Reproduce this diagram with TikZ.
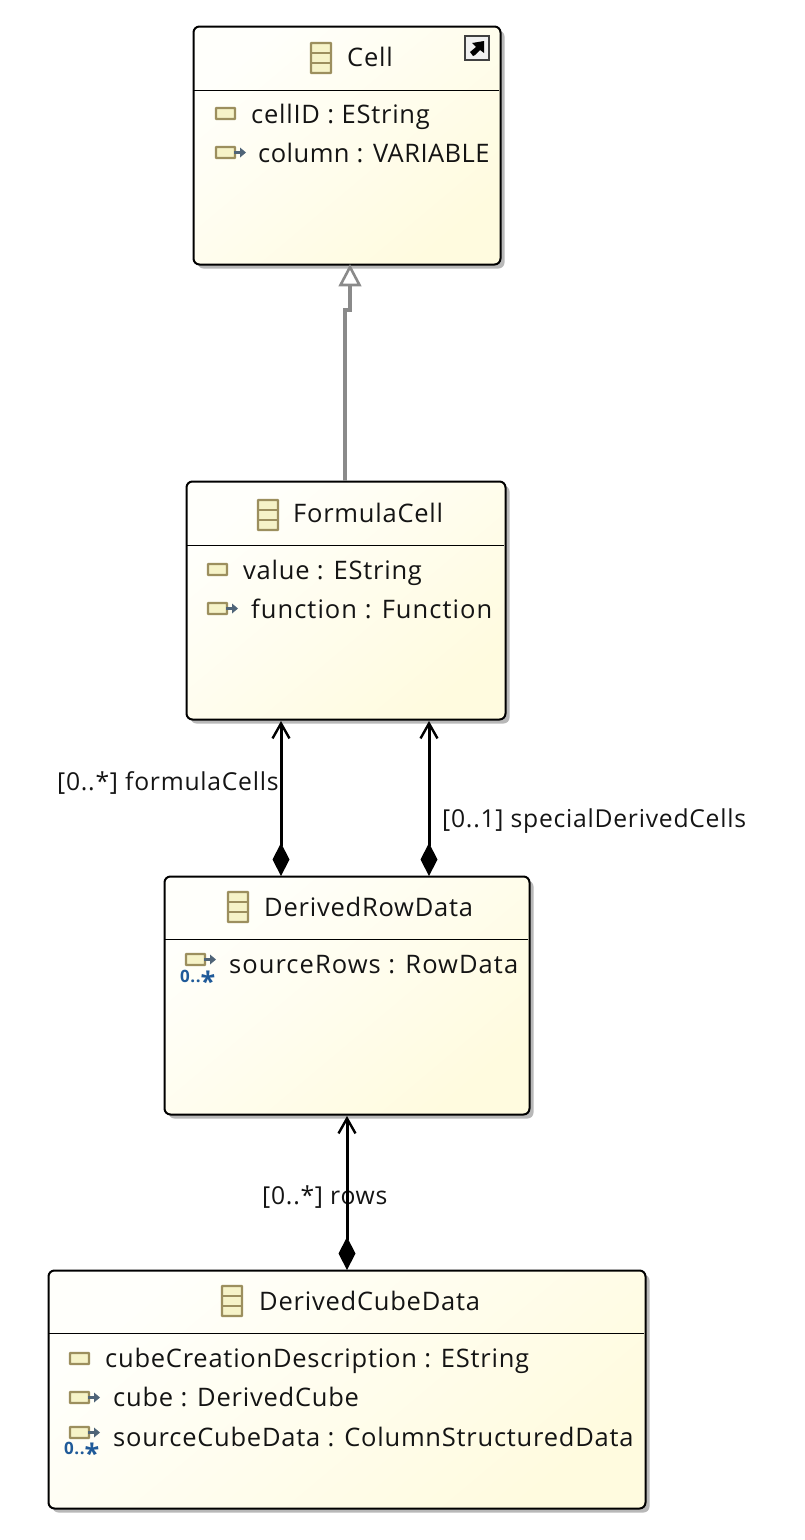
\documentclass[tikz,border=0pt]{standalone}
\usepackage{fontspec}
\setmainfont{Open Sans}[LetterSpace=3]
\usetikzlibrary{arrows.meta,shadows}
\definecolor{boxlight}{HTML}{FFFFFB}
\definecolor{boxdark}{HTML}{FFFBDF}
\definecolor{iconedge}{HTML}{9C8F5E}
\definecolor{iconfill}{HTML}{F6F3C8}
\definecolor{iconarrow}{HTML}{4F6478}
\definecolor{multiblue}{HTML}{1F5A99}
\definecolor{genline}{HTML}{8A8A8A}
\tikzset{
  x=1pt,y=-1pt,
  classbox/.style={draw=black,line width=2pt,rounded corners=6pt,inner sep=0pt,
    top color=boxlight,bottom color=boxdark,shading angle=40,
    drop shadow={shadow xshift=4pt,shadow yshift=-4pt,fill=black!28,opacity=1}},
  txt/.style={anchor=base west,inner sep=0pt,font=\fontsize{25.5}{30}\selectfont,text=black!92},
  txttight/.style={txt,font=\fontsize{25.5}{30}\selectfont\addfontfeature{LetterSpace=1.9}},
  txtwide/.style={txt,font=\fontsize{25.5}{30}\selectfont\addfontfeature{LetterSpace=4.1}},
  conlabel/.style={txt,font=\fontsize{24.7}{30}\selectfont},
  seprule/.style={draw=black,line width=1pt},
  iconline/.style={draw=iconedge,line width=2.4pt,fill=iconfill,rounded corners=.6pt},
  composition/.style={draw=black,line width=3pt,
    {Diamond[length=33pt,width=17pt,line width=0pt]}-{Straight Barb[length=15pt,width=17pt,line width=2.4pt]}},
  generalization/.style={draw=genline,line width=3.2pt},
  gentip/.style={draw=genline,line width=2.6pt,fill=white,line join=miter},
}
% #1 name, #2 x1, #3 y1, #4 x2, #5 y2, #6 separator y
\newcommand{\umlbox}[6]{%
  \pgfmathsetmacro{\bw}{#4-#2}\pgfmathsetmacro{\bh}{#5-#3}
  \node[classbox,minimum width=\bw pt,minimum height=\bh pt,anchor=north west] (#1) at (#2-0.5,#3-0.5) {};
  \draw[seprule] (#2,#6) -- (#4-1,#6);}
% class icon, left top
\newcommand{\classicon}[2]{%
  \draw[iconline] (#1,#2) rectangle ++(20,30);
  \draw[draw=iconedge,line width=1.8pt] (#1,#2+10) -- ++(20,0) (#1,#2+20) -- ++(20,0);}
% attribute icon
\newcommand{\attricon}[2]{\draw[iconline] (#1,#2) rectangle ++(19,11);}
\newcommand{\refarrow}[2]{%
  \draw[iconarrow,line width=2.2pt] (#1+18,#2+5.5) -- ++(8,0);
  \fill[iconarrow] (#1+24,#2+0.5) -- ++(6,5) -- ++(-6,5) -- cycle;}
\newcommand{\reficon}[2]{\attricon{#1}{#2}\refarrow{#1}{#2}}
\newcommand{\manymark}[3]{%
  \node[anchor=base west,inner sep=0pt,text=multiblue,font=\fontsize{17}{17}\selectfont\bfseries] (#3) at (#1,#2) {0..\raisebox{-9pt}{\fontsize{27}{27}\selectfont *}};}
\begin{document}
\begin{tikzpicture}
\useasboundingbox (0,0) rectangle (805,1540);
% boxes
\umlbox{cell}{193}{26}{500}{264}{90}
\umlbox{formula}{186}{481}{505}{719}{545}
\umlbox{rowdata}{164}{876}{529}{1114}{939}
\umlbox{cubedata}{48}{1270}{645}{1508}{1333}
% Cell
\classicon{311}{43}
\node[txt] (celltitle) at (347,66) {Cell};
\attricon{216}{108}
\node[txt] (cellattr) at (251,123) {cellID : EString};
\reficon{216}{147}
\node[txttight] (cellref) at (258,162) {column : VARIABLE};
% shortcut marker
\draw[draw=black!75,line width=2pt,fill=black!6] (465,36) rectangle (489,60);
\fill[black] (473,56) -- (470,52) -- (476,47) -- (472,43) -- (484,41) -- (484,53) -- (480,50) -- (475,55) -- cycle;
% FormulaCell
\classicon{258}{500}
\node[txt] (formulatitle) at (293,522) {FormulaCell};
\attricon{208}{564}
\node[txt] (formulaattr) at (243,579) {value : EString};
\reficon{208}{603}
\node[txtwide] (formularef) at (251,618) {function : Function};
% DerivedRowData
\classicon{228}{892}
\node[txt] (rowtitle) at (264,916) {DerivedRowData};
\reficon{186}{954}
\manymark{180}{982}{rowmany}
\node[txtwide] (rowref) at (229,973) {sourceRows : RowData};
% DerivedCubeData
\classicon{222}{1286}
\node[txt] (cubetitle) at (259,1310) {DerivedCubeData};
\attricon{70}{1353}
\node[txt] (cubeattr) at (105,1367) {cubeCreationDescription : EString};
\reficon{70}{1392}
\reficon{70}{1427}
\manymark{64}{1454}{cubemany}
\node[txt] (cuberef) at (113,1406) {cube : DerivedCube};
\node[txt] (cubemulti) at (113,1446) {sourceCubeData : ColumnStructuredData};
% connector labels
\node[conlabel] (lblformula) at (57,790) {[0..*] formulaCells};
\node[conlabel] (lblspecial) at (442,827) {[0..1] specialDerivedCells};
\node[conlabel] (lblrows) at (262,1204) {[0..*] rows};
% generalization
\coordinate (genstart) at (345,481);
\coordinate (genbend) at (345,310);
\coordinate (genbendb) at (350,310);
\coordinate (genbase) at (350,285);
\draw[generalization] (genstart) -- (genbend) -- (genbendb) -- (genbase);
\draw[gentip] (350,267) -- (359.5,285) -- (340.5,285) -- cycle;
% compositions
\coordinate (rowa) at (281,876);
\coordinate (rowb) at (429,876);
\coordinate (forma) at (281,721);
\coordinate (formb) at (429,721);
\coordinate (cubetop) at (347,1270);
\coordinate (rowbottom) at (347,1116);
\draw[composition] (rowa) -- (forma);
\draw[composition] (rowb) -- (formb);
\draw[composition] (cubetop) -- (rowbottom);
\end{tikzpicture}
\end{document}
